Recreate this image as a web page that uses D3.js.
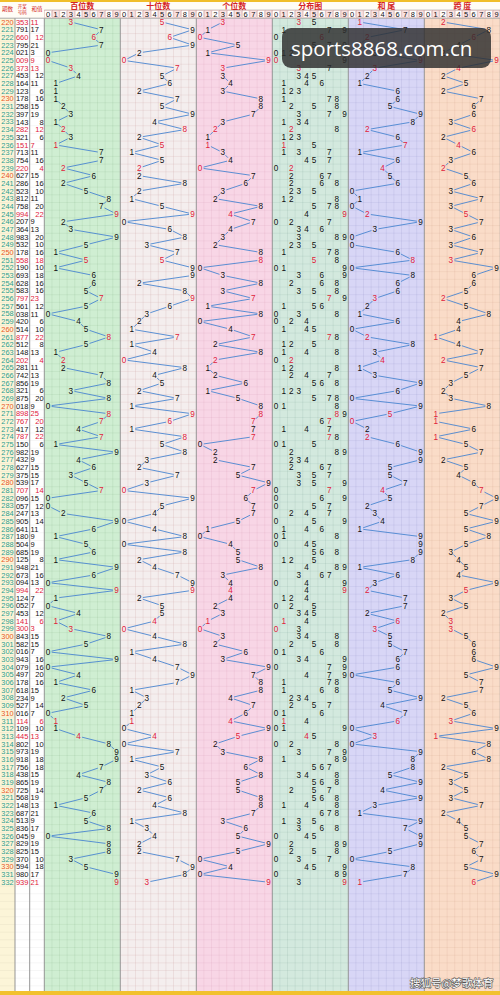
<!DOCTYPE html>
<html>
<head>
<meta charset="utf-8">
<script src="https://cdn.jsdelivr.net/npm/d3@7/dist/d3.min.js"></script>
<style>
  body { margin: 0; background: #fff; }
  svg { display: block; }
</style>
</head>
<body>
<div id="chart"></div>
<script>
// period numbers, draw results and their sums
const periods = [220, 221, 222, 223, 224, 225, 226, 227, 228, 229, 230, 231, 232, 233, 234, 235, 236, 237, 238, 239,
  240, 241, 242, 243, 244, 245, 246, 247, 248, 249, 250, 251, 252, 253, 254, 255, 256, 257, 258, 259,
  260, 261, 262, 263, 264, 265, 266, 267, 268, 269, 270, 271, 272, 273, 274, 275, 276, 277, 278, 279,
  280, 281, 282, 283, 284, 285, 286, 287, 288, 289, 290, 291, 292, 293, 294, 295, 296, 297, 298, 299,
  300, 301, 302, 303, 304, 305, 306, 307, 308, 309, 310, 311, 312, 313, 314, 315, 316, 317, 318, 319,
  320, 321, 322, 323, 324, 325, 326, 327, 328, 329, 330, 331, 332];

const draws = ["353", "791", "660", "795", "021", "009", "373", "453", "164", "123", "178", "258", "397", "143", "282", "321", "151", "713", "754", "220",
  "627", "286", "523", "812", "758", "994", "207", "364", "983", "532", "178", "558", "190", "693", "628", "583", "797", "561", "038", "420",
  "514", "877", "512", "148", "202", "281", "742", "856", "321", "875", "018", "898", "767", "417", "787", "150", "982", "432", "627", "375",
  "539", "707", "096", "057", "247", "905", "641", "180", "504", "685", "125", "948", "673", "094", "994", "124", "052", "453", "141", "300",
  "843", "582", "016", "943", "079", "497", "178", "618", "234", "527", "016", "114", "109", "445", "802", "973", "918", "756", "438", "865",
  "725", "568", "148", "687", "513", "836", "045", "829", "825", "370", "594", "980", "939"];

const sums = [11, 17, 12, 21, 3, 9, 13, 12, 11, 6, 16, 15, 19, 8, 12, 6, 7, 11, 16, 4,
  15, 16, 10, 11, 20, 22, 9, 13, 20, 10, 16, 18, 10, 18, 16, 16, 23, 12, 11, 6,
  10, 22, 8, 13, 4, 11, 13, 19, 6, 20, 9, 25, 20, 12, 22, 6, 19, 9, 15, 15,
  17, 14, 15, 12, 13, 14, 11, 9, 9, 19, 8, 21, 16, 13, 22, 7, 7, 12, 6, 3,
  15, 15, 7, 16, 16, 20, 16, 15, 9, 14, 7, 6, 10, 13, 10, 19, 18, 18, 15, 19,
  14, 19, 13, 21, 9, 17, 9, 19, 15, 10, 18, 17, 21];

const digitLabels = ["0", "1", "2", "3", "4", "5", "6", "7", "8", "9"];
const sectionTitles = ["百位数", "十位数", "个位数", "分布图", "和 尾", "跨 度"];

const width = 500;
const height = 995;
const rowTop = 18.2;
const rowH = 7.68;
const gridRows = 127;
const gridBottom = rowTop + gridRows * rowH;
const barTop = 991;

const digitsOf = (s) => s.split("").map(Number);
const isPair = (s) => new Set(s.split("")).size < 3;

const rows = draws.map((d, i) => {
  const ds = digitsOf(d);
  return {
    period: periods[i],
    draw: d,
    sum: sums[i],
    digits: ds,
    pair: isPair(d),
    tail: sums[i] % 10,
    span: d3.max(ds) - d3.min(ds)
  };
});

const svg = d3.select("#chart").append("svg")
  .attr("width", width)
  .attr("height", height);

const y = d3.scaleLinear().domain([0, gridRows]).range([rowTop, gridBottom]);
const yc = (i) => y(i + 0.5);

const secX0 = 44.3;
const secW = 76;

const sections = [
  {bg: "#cfeed2", grid: "rgba(60,120,60,0.14)", value: (r) => r.digits[0], lines: true},
  {bg: "#f4eeee", grid: "rgba(200,150,150,0.32)", value: (r) => r.digits[1], lines: true},
  {bg: "#f8d6e6", grid: "rgba(180,90,130,0.15)", value: (r) => r.digits[2], lines: true},
  {bg: "#d3e9de", grid: "rgba(60,110,90,0.15)", value: null, lines: false},
  {bg: "#d8d6f6", grid: "rgba(90,90,160,0.16)", value: (r) => r.tail, lines: true},
  {bg: "#fadcc8", grid: "rgba(170,110,80,0.16)", value: (r) => r.span, lines: true}
];

// left columns background
const leftCols = [
  {x: 0, w: 15, bg: "#fcf5d8"},
  {x: 15, w: 14.7, bg: "#ffffff"},
  {x: 29.7, w: 14.6, bg: "#ffffff"}
];
const left = svg.append("g");
left.selectAll("rect.col").data(leftCols).enter().append("rect")
  .attr("x", (d) => d.x).attr("y", rowTop)
  .attr("width", (d) => d.w).attr("height", gridBottom - rowTop)
  .attr("fill", (d) => d.bg);
left.selectAll("line.h").data(d3.range(gridRows + 1)).enter().append("line")
  .attr("x1", 0).attr("x2", secX0)
  .attr("y1", (d) => y(d)).attr("y2", (d) => y(d))
  .attr("stroke", "rgba(0,0,0,0.07)").attr("stroke-width", 0.6);

// sections
sections.forEach((sec, si) => {
  const x0 = secX0 + si * secW;
  const x = d3.scaleBand().domain(digitLabels.map(Number)).range([x0, x0 + secW]);
  sec.x = x;
  const g = svg.append("g");
  g.append("rect").attr("x", x0).attr("y", rowTop)
    .attr("width", secW).attr("height", gridBottom - rowTop).attr("fill", sec.bg);
  g.selectAll("line.v").data(d3.range(1, 10)).enter().append("line")
    .attr("x1", (d) => x(d)).attr("x2", (d) => x(d))
    .attr("y1", rowTop).attr("y2", gridBottom)
    .attr("stroke", sec.grid).attr("stroke-width", 0.6);
  g.selectAll("line.h").data(d3.range(gridRows + 1)).enter().append("line")
    .attr("x1", x0).attr("x2", x0 + secW)
    .attr("y1", (d) => y(d)).attr("y2", (d) => y(d))
    .attr("stroke", sec.grid).attr("stroke-width", 0.5);
});

// column separators
const seps = [15, 29.7].concat(d3.range(7).map((i) => secX0 + i * secW));
svg.selectAll("line.sep").data(seps).enter().append("line")
  .attr("x1", (d) => d).attr("x2", (d) => d)
  .attr("y1", 0).attr("y2", gridBottom)
  .attr("stroke", "#8a8a8a").attr("stroke-width", 0.9);

// header
const head = svg.append("g");
head.append("rect").attr("x", 0).attr("y", 0).attr("width", width).attr("height", rowTop).attr("fill", "#fffdf6");
head.append("rect").attr("x", 0).attr("y", 0).attr("width", width).attr("height", 2).attr("fill", "#f0be2a");
head.append("line").attr("x1", secX0).attr("x2", width).attr("y1", 10).attr("y2", 10)
  .attr("stroke", "#aaa").attr("stroke-width", 0.6);
head.append("line").attr("x1", 0).attr("x2", width).attr("y1", rowTop).attr("y2", rowTop)
  .attr("stroke", "#999").attr("stroke-width", 0.8);

sections.forEach((sec, si) => {
  const x0 = secX0 + si * secW;
  head.append("text")
    .attr("x", x0 + secW / 2).attr("y", 6.3)
    .attr("text-anchor", "middle").attr("dy", "0.35em")
    .attr("font-family", "'Noto Sans CJK SC', sans-serif").attr("font-weight", "bold")
    .attr("font-size", 8).attr("fill", "#d42424")
    .text(sectionTitles[si]);
  const cells = head.append("g");
  cells.selectAll("rect").data(digitLabels).enter().append("rect")
    .attr("x", (d) => sec.x(+d) + 0.4).attr("y", 10.6)
    .attr("width", sec.x.bandwidth() - 0.8).attr("height", 7)
    .attr("fill", (d) => (+d % 2 === 1 ? "#fbe3e3" : "#ffffff"))
    .attr("stroke", "#c99").attr("stroke-width", 0.4);
  cells.selectAll("text").data(digitLabels).enter().append("text")
    .attr("x", (d) => sec.x(+d) + sec.x.bandwidth() / 2).attr("y", 14.2)
    .attr("text-anchor", "middle").attr("dy", "0.35em")
    .attr("font-family", "'Liberation Sans', Arial, sans-serif")
    .attr("font-size", 7.5).attr("fill", "#111")
    .text((d) => d);
});

const headLeft = [
  {x: 7.5, yy: 9.5, t: "期数", fs: 5.5},
  {x: 22.3, yy: 6.5, t: "开奖", fs: 4.5},
  {x: 22.3, yy: 12.5, t: "号码", fs: 4.5},
  {x: 37, yy: 9.5, t: "和值", fs: 5.5}
];
head.selectAll("text.hl").data(headLeft).enter().append("text")
  .attr("x", (d) => d.x).attr("y", (d) => d.yy)
  .attr("text-anchor", "middle").attr("dy", "0.35em")
  .attr("font-family", "'Noto Sans CJK SC', sans-serif")
  .attr("font-size", (d) => d.fs).attr("fill", "#d42424")
  .text((d) => d.t);

const red = "#e0203a";
const font = "'Liberation Sans', Arial, sans-serif";

// left data columns
const body = svg.append("g").attr("font-family", font);
body.selectAll("text.period").data(rows).enter().append("text")
  .attr("x", 7.5).attr("y", (d, i) => yc(i)).attr("dy", "0.35em")
  .attr("text-anchor", "middle").attr("font-size", 7.4)
  .attr("fill", (d) => (d.period % 10 === 0 ? "#e8561e" : "#2a9d8f"))
  .text((d) => d.period);
body.selectAll("text.draw").data(rows).enter().append("text")
  .attr("x", 22.2).attr("y", (d, i) => yc(i)).attr("dy", "0.35em")
  .attr("text-anchor", "middle").attr("font-size", 7.5)
  .attr("fill", (d) => (d.pair ? red : "#111"))
  .text((d) => d.draw);
body.selectAll("text.sum").data(rows).enter().append("text")
  .attr("x", (d) => (d.sum % 2 === 1 ? 30.6 : 43.6)).attr("y", (d, i) => yc(i)).attr("dy", "0.35em")
  .attr("text-anchor", (d) => (d.sum % 2 === 1 ? "start" : "end")).attr("font-size", 7.5)
  .attr("fill", (d) => (d.pair ? red : "#111"))
  .text((d) => d.sum);

// trend lines and digits
const shrink = (a, b, r) => {
  const dx = b[0] - a[0], dy = b[1] - a[1];
  const L = Math.sqrt(dx * dx + dy * dy);
  if (L <= 2 * r) return null;
  const ux = dx / L, uy = dy / L;
  return [[a[0] + ux * r, a[1] + uy * r], [b[0] - ux * r, b[1] - uy * r]];
};

sections.forEach((sec) => {
  const x = sec.x;
  const cx = (v) => x(v) + x.bandwidth() / 2;
  const g = svg.append("g").attr("font-family", font);
  if (sec.lines) {
    const pts = rows.map((r, i) => [cx(sec.value(r)), yc(i)]);
    const segs = d3.pairs(pts).map(([a, b]) => shrink(a, b, 3.6)).filter((s) => s);
    g.selectAll("line").data(segs).enter().append("line")
      .attr("x1", (d) => d[0][0]).attr("y1", (d) => d[0][1])
      .attr("x2", (d) => d[1][0]).attr("y2", (d) => d[1][1])
      .attr("stroke", "#4a86d0").attr("stroke-width", 0.9);
    g.selectAll("text").data(rows).enter().append("text")
      .attr("x", (d) => cx(sec.value(d))).attr("y", (d, i) => yc(i)).attr("dy", "0.35em")
      .attr("text-anchor", "middle").attr("font-size", 8.2)
      .attr("fill", (d) => (d.pair ? red : "#111"))
      .text((d) => sec.value(d));
  } else {
    const items = [];
    rows.forEach((r, i) => {
      const counts = d3.rollup(r.digits, (v) => v.length, (d) => d);
      counts.forEach((n, dgt) => items.push({i, dgt, rep: n > 1}));
    });
    g.selectAll("text").data(items).enter().append("text")
      .attr("x", (d) => cx(d.dgt)).attr("y", (d) => yc(d.i)).attr("dy", "0.35em")
      .attr("text-anchor", "middle").attr("font-size", 8.2)
      .attr("fill", (d) => (d.rep ? red : "#111"))
      .text((d) => d.dgt);
  }
});

// bottom bar
svg.append("rect").attr("x", 0).attr("y", barTop).attr("width", width)
  .attr("height", height - barTop).attr("fill", "#f2c12e");

// watermarks
svg.append("rect").attr("x", 282).attr("y", 28).attr("width", 209).attr("height", 40).attr("rx", 9)
  .attr("fill", "rgba(45,45,45,0.82)");
svg.append("text").attr("x", 291).attr("y", 55.5)
  .attr("font-family", "'Open Sans', sans-serif").attr("font-size", 20.5)
  .attr("fill", "#fff").text("sports8868.com.cn");
svg.append("text").attr("x", 410).attr("y", 987)
  .attr("font-family", "'Noto Sans CJK SC', sans-serif").attr("font-size", 10.5)
  .attr("fill", "#fff").attr("stroke", "#555").attr("stroke-width", 1.2)
  .attr("paint-order", "stroke").text("搜狐号@梦歌体育");
</script>
</body>
</html>
